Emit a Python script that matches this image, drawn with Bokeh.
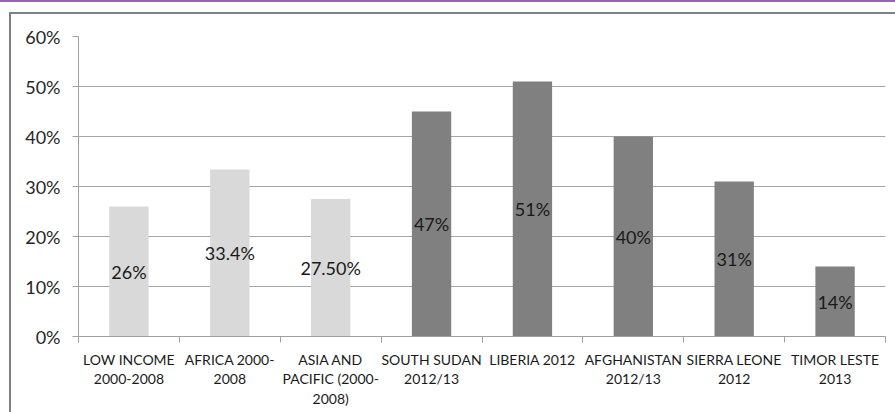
from bokeh.plotting import figure
from bokeh.models import (ColumnDataSource, FactorRange, Range1d, LinearAxis, CategoricalAxis,
                          FixedTicker, PrintfTickFormatter, LabelSet)
from bokeh.core.properties import value
from bokeh.embed import file_html
from bokeh.resources import INLINE

# ---- data ----
categories = ["LOW INCOME\n2000-2008", "AFRICA 2000-\n2008", "ASIA AND\nPACIFIC (2000-\n2008)",
              "SOUTH SUDAN\n2012/13", "LIBERIA 2012", "AFGHANISTAN\n2012/13",
              "SIERRA LEONE\n2012", "TIMOR LESTE\n2013"]
values = [26, 33.4, 27.5, 45, 51, 40, 31, 14]
value_labels = ["26%", "33.4%", "27.50%", "47%", "51%", "40%", "31%", "14%"]
groups = ["regional", "regional", "regional", "country", "country", "country", "country", "country"]
y_ticks = [0, 10, 20, 30, 40, 50, 60]

FONT = "Lato"
group_colors = {"regional": "#d9d9d9", "country": "#808080"}

src = ColumnDataSource(dict(
    cat=categories,
    val=values,
    lbl=value_labels,
    ly=[v / 2 for v in values],
    color=[group_colors[g] for g in groups],
))

p = figure(width=884, height=398,
           x_range=FactorRange(factors=categories), y_range=Range1d(0, 60),
           x_axis_location=None, output_backend="svg", toolbar_location=None, tools="",
           min_border_left=67, min_border_right=10, min_border_top=22, min_border_bottom=76)
# slide frame (drawn with shadows so the plot box keeps its size):
# grey top/left rule around the slide, thin purple rule at the top of the page
p.styles = {
    "margin": "14px 0px -150px 11px",
    "box-shadow": "0 0 0 2px #808080, 1px 0 0 12px white, 3px 0 0 14px #9b5fc0",
}
p.outline_line_color = None
p.background_fill_color = "white"
p.border_fill_color = "white"

p.vbar(x="cat", top="val", width=0.39, source=src, fill_color="color", line_color=None)

p.add_layout(LabelSet(x="cat", y="ly", text="lbl", source=src, text_align="center",
                      text_baseline="middle", text_font=value(FONT), text_font_size="18px",
                      text_color="#1a1a1a"))

# y axis
ya = p.yaxis[0]
ya.ticker = FixedTicker(ticks=y_ticks)
ya.formatter = PrintfTickFormatter(format="%d%%")
ya.axis_line_color = "#a0a0a0"
ya.major_tick_line_color = "#a0a0a0"
ya.major_tick_out = 6
ya.major_tick_in = 0
ya.minor_tick_line_color = None
ya.major_label_text_font = FONT
ya.major_label_text_font_size = "18px"
ya.major_label_text_color = "#262626"
ya.major_label_standoff = 12

p.ygrid.grid_line_color = "#a6a6a6"
p.ygrid.grid_line_width = 1.2
p.xgrid.visible = False

# x axis: ticks at category boundaries + category labels
tick_axis = LinearAxis(ticker=FixedTicker(ticks=list(range(len(categories) + 1))),
                       axis_line_color="#a0a0a0", major_tick_line_color="#a0a0a0",
                       major_tick_out=6, major_tick_in=0, minor_tick_line_color=None,
                       major_label_text_color=None, major_label_text_font_size="1px",
                       major_label_standoff=0)
p.add_layout(tick_axis, "below")
cat_axis = CategoricalAxis(axis_line_color=None, major_tick_line_color=None,
                           major_label_text_font=FONT, major_label_text_font_size="14px",
                           major_label_text_color="#1a1a1a", major_label_standoff=2,
                           major_label_text_line_height=1.15)
p.add_layout(cat_axis, "below")

open("out.html", "w").write(file_html(p, INLINE))
